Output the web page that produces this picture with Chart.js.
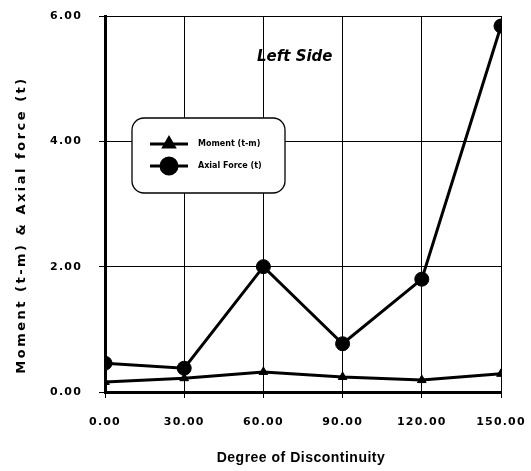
<!DOCTYPE html>
<html>
<head>
<meta charset="utf-8">
<script src="https://cdn.jsdelivr.net/npm/chart.js@4.4.1/dist/chart.umd.min.js"></script>
<style>
  html, body { margin: 0; padding: 0; background: #fff; }
  #wrap { width: 531px; height: 471px; }
</style>
</head>
<body>
<div id="wrap"><canvas id="myCanvas"></canvas></div>
<script>
/* Chart values. */
var degrees = [0, 30, 60, 90, 120, 150];
var moment_values = [0.16, 0.22, 0.32, 0.24, 0.19, 0.29];
var axial_values = [0.46, 0.38, 2.00, 0.77, 1.80, 5.84];
var y_ticks = [0, 2, 4, 6];
var x_ticks = [0, 30, 60, 90, 120, 150];
var y_title = 'Moment (t-m) & Axial force (t)';
var x_title = 'Degree of Discontinuity';
var note_text = 'Left Side';

function to_points(xs, ys) {
  var pts = [];
  for (var i = 0; i < xs.length; i++) {
    pts.push({ x: xs[i], y: ys[i] });
  }
  return pts;
}

/* Spaced out tick labels, like the scanned original. */
var spacingPlugin = {
  id: 'spacingPlugin',
  beforeLayout: function(chart) { chart.ctx.letterSpacing = '1.2px'; },
  beforeDraw: function(chart) { chart.ctx.letterSpacing = '1.2px'; },
  afterDatasetsDraw: function(chart) { chart.ctx.letterSpacing = '0px'; }
};

/* Legend box inside the plot, the "Left Side" note and both axis titles. */
var boxPlugin = {
  id: 'boxPlugin',
  afterDraw: function(chart) {
    var ctx = chart.ctx;
    ctx.save();
    ctx.letterSpacing = '0px';
    ctx.strokeStyle = '#000';
    ctx.lineWidth = 1.3;
    ctx.fillStyle = '#fff';
    ctx.beginPath();
    ctx.roundRect(132, 118, 153, 75, 12);
    ctx.fill();
    ctx.stroke();

    var rows = [144, 166];
    chart.data.datasets.forEach(function(ds, i) {
      var y = rows[i];
      ctx.strokeStyle = '#000';
      ctx.lineWidth = 3;
      ctx.beginPath();
      ctx.moveTo(150, y);
      ctx.lineTo(188, y);
      ctx.stroke();
      Chart.helpers.drawPoint(ctx, {
        pointStyle: ds.pointStyle,
        radius: ds.pointRadius + 1,
        borderWidth: 1
      }, 169, y);
      ctx.fillStyle = '#000';
      ctx.fill();
      ctx.font = 'bold 8px "DejaVu Sans"';
      ctx.textBaseline = 'middle';
      ctx.textAlign = 'left';
      ctx.fillText(ds.label, 198, y);
    });

    ctx.font = 'italic bold 15px "DejaVu Sans"';
    ctx.textBaseline = 'middle';
    ctx.textAlign = 'left';
    ctx.fillText(note_text, 257, 57);

    /* x title, centred under the plot */
    var area = chart.chartArea;
    ctx.font = 'bold 14px "Liberation Sans"';
    ctx.textAlign = 'center';
    ctx.letterSpacing = '0.5px';
    ctx.fillText(x_title, (area.left + area.right) / 2 - 2, 458);

    /* rotated y title with wide letter spacing */
    ctx.translate(22, 225);
    ctx.rotate(-Math.PI / 2);
    ctx.letterSpacing = '2.5px';
    ctx.font = 'bold 13px "DejaVu Sans"';
    ctx.textAlign = 'center';
    ctx.fillText(y_title, 0, 0);
    ctx.restore();
  }
};

const ctx = document.getElementById('myCanvas');
var myChart = new Chart(ctx, {
  type: 'line',
  data: {
    datasets: [{
        label: 'Moment (t-m)',
        data: to_points(degrees, moment_values),
        borderColor: '#000',
        backgroundColor: '#000',
        borderWidth: 3,
        pointStyle: 'triangle',
        pointRadius: 5,
        pointBorderWidth: 1
      },
      {
        label: 'Axial Force (t)',
        data: to_points(degrees, axial_values),
        borderColor: '#000',
        backgroundColor: '#000',
        borderWidth: 3,
        pointStyle: 'circle',
        pointRadius: 7,
        pointBorderWidth: 1
    }]
  },
  options: {
    responsive: true,
    maintainAspectRatio: false,
    animation: false,
    layout: {
      padding: { left: 0, right: 30, top: 16, bottom: 0 }
    },
    plugins: {
      legend: { display: false },
      tooltip: { enabled: false }
    },
    scales: {
      x: {
        type: 'linear',
        min: 0,
        max: 150,
        afterFit: function(scale) {
          scale.height = 79;
          scale.paddingLeft = 0;
          scale.paddingRight = 0;
        },
        afterBuildTicks: function(scale) {
          scale.ticks = x_ticks.map(function(v) { return { value: v }; });
        },
        ticks: {
          color: '#000',
          padding: 18,
          maxRotation: 0,
          font: { family: 'DejaVu Sans', size: 11, weight: 'bold' },
          callback: function(value) { return Number(value).toFixed(2); }
        },
        grid: { color: '#000', lineWidth: 1, tickLength: 6 },
        border: { color: '#000', width: 3 },
        title: { display: false }
      },
      y: {
        min: 0,
        max: 6,
        afterFit: function(scale) {
          scale.width = 105;
          scale.paddingTop = 0;
          scale.paddingBottom = 0;
        },
        afterBuildTicks: function(scale) {
          scale.ticks = y_ticks.map(function(v) { return { value: v }; });
        },
        ticks: {
          color: '#000',
          padding: 17,
          font: { family: 'DejaVu Sans', size: 11, weight: 'bold' },
          callback: function(value) { return Number(value).toFixed(2); }
        },
        grid: { color: '#000', lineWidth: 1, tickLength: 6 },
        border: { color: '#000', width: 3 },
        title: { display: false }
      }
    }
  },
  plugins: [spacingPlugin, boxPlugin]
} );
</script>
</body>
</html>
